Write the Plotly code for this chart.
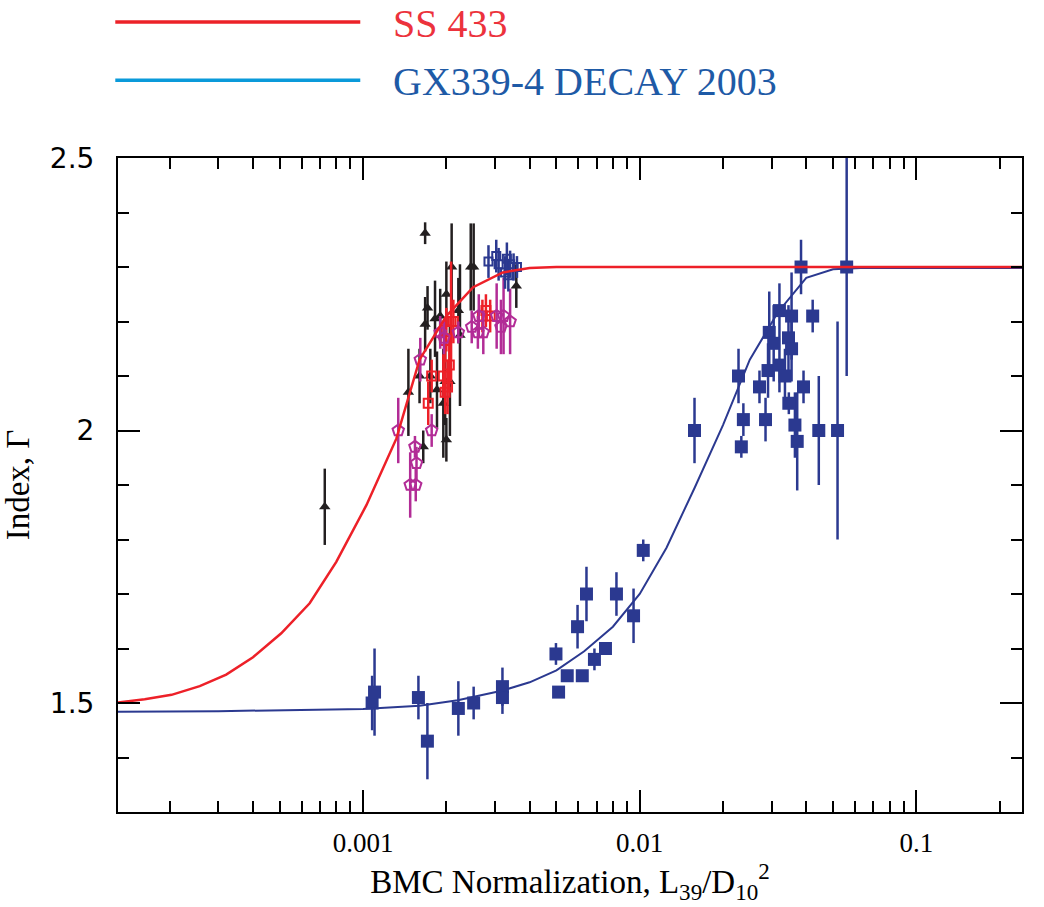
import plotly.graph_objects as go

# ---------------- data ----------------
# GX339-4 decay 2003 (filled navy squares)
gx_x = [1.078e-3, 1.10e-3, 1.585e-3, 1.708e-3, 2.21e-3, 2.51e-3, 3.19e-3, 3.19e-3,
        4.98e-3, 5.09e-3, 5.47e-3, 5.96e-3, 6.2e-3, 6.42e-3, 6.86e-3, 7.52e-3, 8.24e-3,
        9.5e-3, 1.03e-2,
        1.578e-2, 2.276e-2, 2.37e-2, 2.33e-2, 2.71e-2, 2.85e-2, 2.94e-2, 3.05e-2,
        2.91e-2, 3.2e-2, 3.35e-2, 3.2e-2, 3.54e-2, 3.45e-2, 3.54e-2, 3.46e-2, 3.64e-2,
        3.71e-2, 3.91e-2, 3.83e-2, 4.22e-2, 4.44e-2, 5.19e-2, 5.6e-2]
gx_y = [1.50, 1.52, 1.51, 1.43, 1.49, 1.50, 1.53, 1.51,
        1.59, 1.52, 1.55, 1.64, 1.55, 1.70, 1.58, 1.60, 1.70,
        1.66, 1.78,
        2.00, 2.10, 2.02, 1.97, 2.08, 2.02, 2.18, 2.16,
        2.11, 2.12, 2.10, 2.22, 2.21, 2.17, 2.15, 2.05, 2.01,
        1.98, 2.08, 2.30, 2.21, 2.00, 2.00, 2.30]
gx_err = [0.05, 0.08, 0.04, 0.07, 0.05, 0.03, 0.035, 0.03,
          0.02, 0.0, 0.0, 0.04, 0.0, 0.05, 0.02, 0.0, 0.04,
          0.05, 0.02,
          0.06, 0.05, 0.03, 0.02, 0.03, 0.04, 0.075, 0.07,
          0.05, 0.05, 0.05, 0.05, 0.08, 0.06, 0.06, 0.02, 0.06,
          0.09, 0.03, 0.05, 0.03, 0.10, 0.20, 0.20]

# SS 433 data: black triangles
tri_x = [7.27e-4, 1.676e-3, 1.458e-3, 1.65e-3, 1.676e-3, 1.71e-3, 1.75e-3, 1.82e-3,
         1.85e-3, 1.90e-3, 1.98e-3, 2.0e-3, 2.0e-3, 2.06e-3, 2.09e-3, 2.21e-3,
         2.24e-3, 2.45e-3, 2.51e-3, 3.58e-3, 1.95e-3, 1.60e-3]
tri_y = [1.86, 2.362, 2.07, 1.97, 2.195, 2.225, 2.10, 2.205,
         2.075, 2.21, 2.09, 1.983, 2.25, 2.09, 2.30, 2.22,
         2.175, 2.30, 2.30, 2.265, 2.05, 2.10]
tri_err = [0.07, 0.02, 0.08, 0.03, 0.05, 0.04, 0.05, 0.07,
           0.07, 0.05, 0.08, 0.04, 0.06, 0.10, 0.08, 0.06,
           0.13, 0.08, 0.08, 0.04, 0.10, 0.05]

# SS 433 data: red open squares
rsq_x = [1.72e-3, 1.77e-3, 1.95e-3, 1.98e-3, 2.02e-3, 2.05e-3, 1.98e-3, 2.0e-3,
         2.08e-3, 2.12e-3, 2.78e-3, 2.88e-3, 2.70e-3]
rsq_y = [2.05, 2.10, 2.10, 2.07, 2.08, 2.12, 2.165, 2.185,
         2.20, 2.20, 2.22, 2.21, 2.21]
rsq_err = [0.04, 0.03, 0.04, 0.04, 0.05, 0.05, 0.04, 0.04,
           0.11, 0.04, 0.03, 0.03, 0.03]

# SS 433 data: magenta open pentagons
pen_x = [1.34e-3, 1.48e-3, 1.55e-3, 1.56e-3, 1.54e-3, 1.61e-3, 1.77e-3, 1.90e-3,
         1.96e-3, 2.21e-3, 2.47e-3, 2.62e-3, 2.72e-3, 2.60e-3, 3.04e-3, 3.22e-3,
         3.40e-3, 3.15e-3]
pen_y = [2.00, 1.90, 1.90, 1.94, 1.97, 2.13, 2.00, 2.18,
         2.17, 2.18, 2.19, 2.21, 2.18, 2.18, 2.21, 2.21,
         2.20, 2.19]
pen_err = [0.06, 0.06, 0.03, 0.03, 0.02, 0.04, 0.03, 0.03,
           0.03, 0.02, 0.03, 0.04, 0.04, 0.03, 0.06, 0.07,
           0.06, 0.05]

# SS 433 data: blue open squares
bsq_x = [2.84e-3, 3.03e-3, 3.09e-3, 3.26e-3, 3.31e-3, 3.35e-3, 3.40e-3, 3.50e-3, 3.60e-3]
bsq_y = [2.31, 2.32, 2.305, 2.29, 2.315, 2.285, 2.305, 2.30, 2.30]
bsq_err = [0.03, 0.03, 0.03, 0.03, 0.03, 0.03, 0.025, 0.025, 0.02]

# model curves (vertices)
ss_curve_x = [1.30e-4, 1.624e-4, 2.03e-4, 2.567e-4, 3.20e-4, 4.0e-4, 5.06e-4, 6.41e-4,
              8.0e-4, 1.028e-3, 1.319e-3, 1.6e-3, 2.0e-3, 2.5e-3, 3.2e-3, 4.0e-3,
              5.0e-3, 0.25]
ss_curve_y = [1.501, 1.507, 1.515, 1.531, 1.552, 1.584, 1.628, 1.683,
              1.759, 1.863, 1.985, 2.13, 2.21, 2.263, 2.29, 2.298,
              2.30, 2.30]

gx_curve_x = [1.30e-4, 3.0e-4, 1.0e-3, 1.6e-3, 2.2e-3, 3.2e-3, 4.0e-3, 5.0e-3,
              6.3e-3, 8.0e-3, 1.0e-2, 1.25e-2, 1.58e-2, 2.0e-2, 2.5e-2, 3.16e-2,
              4.0e-2, 5.0e-2, 6.3e-2, 0.25]
gx_curve_y = [1.484, 1.485, 1.489, 1.495, 1.505, 1.523, 1.538, 1.56,
              1.595, 1.64, 1.70, 1.785, 1.895, 2.01, 2.13, 2.217,
              2.28, 2.296, 2.298, 2.298]

x_tickvals = [0.001, 0.01, 0.1]
x_ticktext = ["0.001", "0.01", "0.1"]
x_minor = [m * 10.0 ** e for e in (-4, -3, -2, -1) for m in range(2, 10)]
y_tickvals = [1.5, 2.0, 2.5]
y_ticktext = ["1.5", "2", "2.5"]

legend_names = ["SS 433", "GX339-4 DECAY 2003"]

# ---------------- colours ----------------
NAVY = "rgb(43,57,144)"
RED = "rgb(237,32,40)"
MAG = "rgb(178,44,150)"
BLK = "rgb(35,31,32)"

fig = go.Figure()


def add_pts(x, y, err, symbol, size, color, lw=0):
    fig.add_trace(go.Scatter(
        x=x, y=y, mode="markers",
        marker=dict(symbol=symbol, size=size, color=color,
                    line=dict(color=color, width=lw)),
        error_y=dict(type="data", array=err, visible=True, color=color,
                     thickness=2.5, width=0),
        showlegend=False, hoverinfo="x+y"))


add_pts(gx_x, gx_y, gx_err, "square", 13, NAVY)
add_pts(tri_x, tri_y, tri_err, "triangle-up", 10, BLK)
add_pts(rsq_x, rsq_y, rsq_err, "square-open", 9, RED, 2)
add_pts(pen_x, pen_y, pen_err, "pentagon-open", 12, MAG, 2)
add_pts(bsq_x, bsq_y, bsq_err, "square-open", 8, NAVY, 2)

fig.add_trace(go.Scatter(x=gx_curve_x, y=gx_curve_y, mode="lines",
                         line=dict(color=NAVY, width=2), showlegend=False))
fig.add_trace(go.Scatter(x=ss_curve_x, y=ss_curve_y, mode="lines",
                         line=dict(color=RED, width=2.5), showlegend=False))

# legend drawn above the plot
fig.add_shape(type="line", xref="paper", yref="paper", x0=-0.003, x1=0.268,
              y0=1.208, y1=1.208, line=dict(color="rgb(236,34,40)", width=3.5))
fig.add_shape(type="line", xref="paper", yref="paper", x0=-0.003, x1=0.268,
              y0=1.119, y1=1.119, line=dict(color="rgb(10,154,218)", width=3.5))
fig.add_annotation(xref="paper", yref="paper", x=0.302, y=1.205, xanchor="left",
                   yanchor="middle", text=legend_names[0], showarrow=False,
                   font=dict(family="Liberation Serif", size=40, color="rgb(236,50,60)"))
fig.add_annotation(xref="paper", yref="paper", x=0.302, y=1.117, xanchor="left",
                   yanchor="middle", text=legend_names[1], showarrow=False,
                   font=dict(family="Liberation Serif", size=40, color="rgb(30,90,166)"))

axis_common = dict(showline=True, linecolor="black", linewidth=2, mirror="ticks",
                   ticks="inside", tickcolor="black", tickwidth=2, showgrid=False,
                   zeroline=False)

fig.update_xaxes(type="log", range=[-3.886, -0.618], tickmode="array",
                 tickvals=x_tickvals, ticktext=x_ticktext, ticklen=22,
                 minor=dict(tickmode="array", tickvals=x_minor, ticks="inside",
                            ticklen=11, tickcolor="black", tickwidth=2),
                 ticklabelstandoff=6,
                 tickfont=dict(family="Liberation Serif", size=27, color="black"),
                 title=dict(text="BMC Normalization, L<sub>39</sub>/D<sub>10</sub><sup>2</sup>",
                            standoff=4,
                            font=dict(family="Liberation Serif", size=33, color="black")),
                 **axis_common)
fig.update_yaxes(range=[1.3, 2.5], tickmode="array", tickvals=y_tickvals,
                 ticktext=y_ticktext, ticklen=22,
                 minor=dict(dtick=0.1, tick0=1.3, ticks="inside", ticklen=11,
                            tickcolor="black", tickwidth=2),
                 ticklabelstandoff=16,
                 tickfont=dict(family="DejaVu Sans", size=28, color="black"),
                 title=dict(text="Index, \u0393", standoff=14,
                            font=dict(family="Liberation Serif", size=33, color="black")),
                 **axis_common)

fig.update_layout(width=1044, height=907,
                  margin=dict(l=118, r=22, t=158, b=95),
                  plot_bgcolor="white", paper_bgcolor="white")

fig.write_html("out.html")
